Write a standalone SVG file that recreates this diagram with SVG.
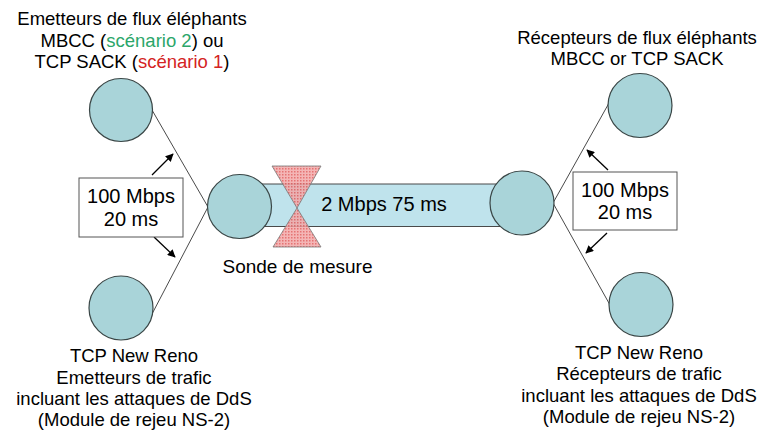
<svg xmlns="http://www.w3.org/2000/svg" width="760" height="437" viewBox="0 0 760 437">
<defs>
<style>
text{font-family:"Liberation Sans",Arial,sans-serif;fill:#000;text-anchor:middle}
.t{font-size:18.5px}
.b{font-size:20px}
.node{fill:#a9d4d9;stroke:#3a4646;stroke-width:1.2}
.link{stroke:#4a4a4a;stroke-width:1;fill:none}
.arr{stroke:#000;stroke-width:1.3;fill:none;marker-end:url(#ah)}
.box{fill:#fff;stroke:#555;stroke-width:1}
</style>
<marker id="ah" viewBox="0 0 10 10" refX="9" refY="5" markerWidth="8" markerHeight="8" orient="auto" markerUnits="userSpaceOnUse">
<path d="M0,0 L10,5 L0,10 z" fill="#000"/>
</marker>
<pattern id="dots" width="3" height="3" patternUnits="userSpaceOnUse">
<rect width="3" height="3" fill="#f2a8a8"/>
<rect width="1.5" height="1.5" fill="#e05a5a"/>
</pattern>
</defs>
<rect width="760" height="437" fill="#fff"/>

<g id="connectors">
<polyline class="link" points="152,110 208,207 152,314"/>
<polyline class="link" points="609,103 553,203 610,305"/>
<line class="arr" x1="152" y1="175" x2="173" y2="154"/>
<line class="arr" x1="154" y1="237" x2="175" y2="257"/>
<line class="arr" x1="608" y1="170" x2="587" y2="150"/>
<line class="arr" x1="607" y1="233" x2="586" y2="253"/>
</g>

<g id="link-2mbps">
<rect x="240" y="184" width="282" height="42.5" fill="#bfe3ec" stroke="#4a4a4a" stroke-width="1"/>
<text class="b" x="384" y="211">2 Mbps 75 ms</text>
</g>

<g id="sonde">
<polygon points="272,166 321,166 297,208 273,247 321,247 297,208" fill="url(#dots)" fill-opacity="0.85" stroke="#777" stroke-width="0.8"/>
<text class="t" x="297.5" y="273" style="font-size:19px">Sonde de mesure</text>
</g>

<g id="emetteurs-elephants">
<circle class="node" cx="121" cy="110" r="31.5"/>
<text class="t" x="132" y="24.5">Emetteurs de flux éléphants</text>
<text class="t" x="132" y="46.5">MBCC (<tspan fill="#2ba66a">scénario 2</tspan>) ou</text>
<text class="t" x="132" y="67.5">TCP SACK (<tspan fill="#d42323">scénario 1</tspan>)</text>
</g>

<g id="emetteurs-trafic">
<circle class="node" cx="121" cy="308" r="32"/>
<text class="t" x="134" y="362">TCP New Reno</text>
<text class="t" x="134" y="383.5">Emetteurs de trafic</text>
<text class="t" x="134" y="405">incluant les attaques de DdS</text>
<text class="t" x="134" y="426">(Module de rejeu NS-2)</text>
</g>

<g id="routeur-gauche">
<circle class="node" cx="239.5" cy="206.5" r="32"/>
</g>

<g id="routeur-droit">
<circle class="node" cx="522" cy="203" r="32"/>
</g>

<g id="recepteurs-elephants">
<circle class="node" cx="640" cy="105.5" r="32"/>
<text class="t" x="637" y="43.5">Récepteurs de flux éléphants</text>
<text class="t" x="637" y="65">MBCC or TCP SACK</text>
</g>

<g id="recepteurs-trafic">
<circle class="node" cx="641" cy="304.5" r="32"/>
<text class="t" x="639" y="359">TCP New Reno</text>
<text class="t" x="639" y="380">Récepteurs de trafic</text>
<text class="t" x="639" y="402">incluant les attaques de DdS</text>
<text class="t" x="639" y="423">(Module de rejeu NS-2)</text>
</g>

<g id="label-gauche">
<rect class="box" x="79" y="178" width="104" height="59"/>
<text class="b" x="131" y="203">100 Mbps</text>
<text class="b" x="131" y="226">20 ms</text>
</g>

<g id="label-droit">
<rect class="box" x="573" y="172" width="104" height="58"/>
<text class="b" x="625" y="197">100 Mbps</text>
<text class="b" x="625" y="219">20 ms</text>
</g>
</svg>
